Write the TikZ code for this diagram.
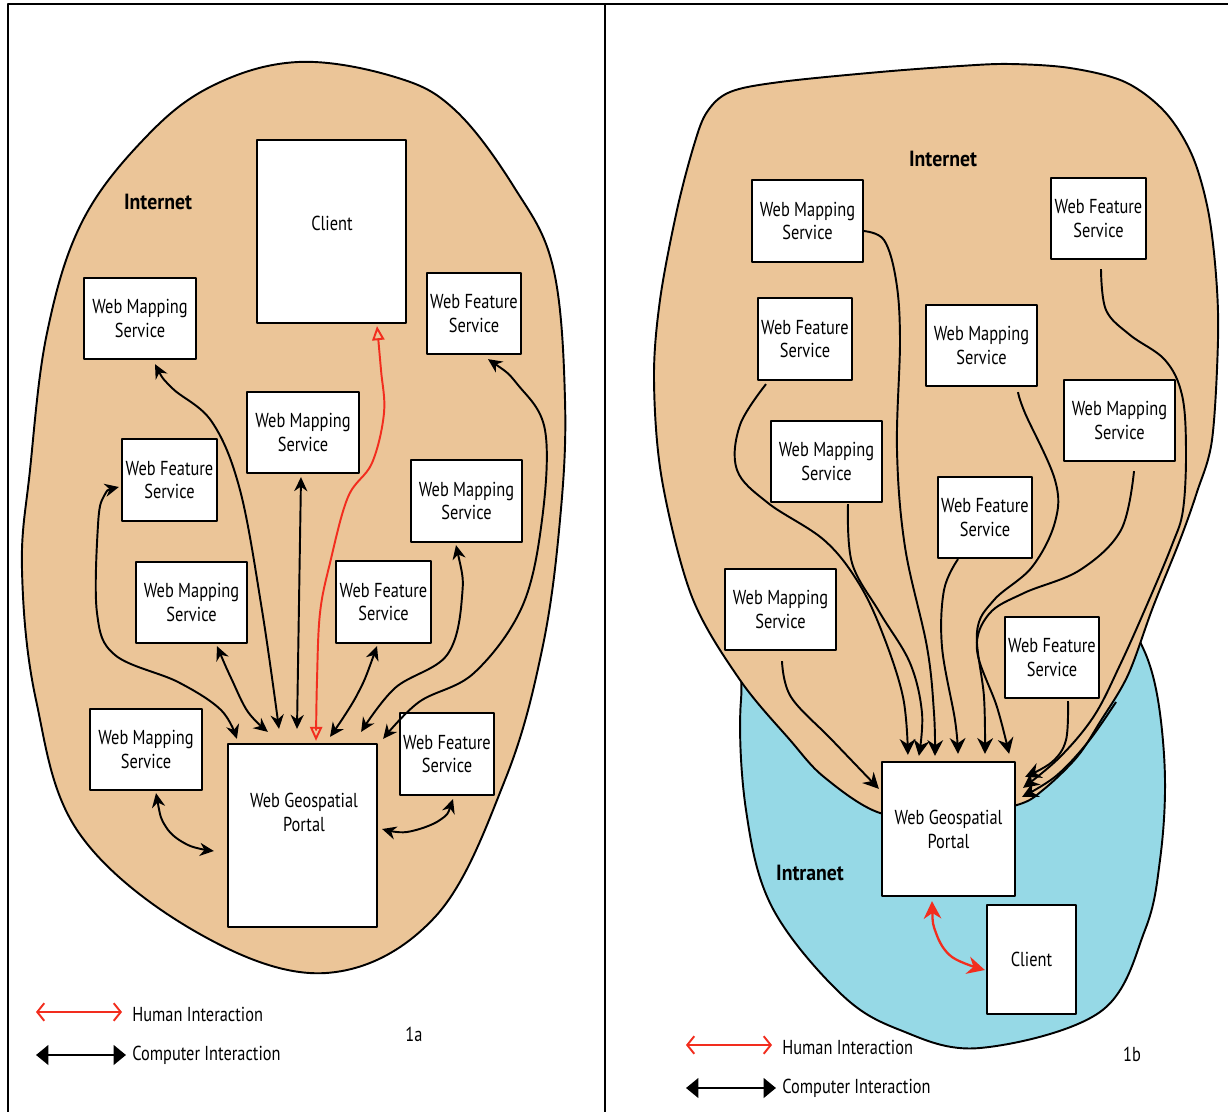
\documentclass[tikz,border=0pt]{standalone}
\usepackage{fontspec}
\setmainfont{PT Sans}[FakeStretch=0.81]
\newfontfamily\lblfont{PT Sans}[FakeStretch=0.9]
\usetikzlibrary{arrows.meta}
\definecolor{inetcol}{RGB}{235,197,152}
\definecolor{intracol}{RGB}{150,217,230}
\definecolor{hred}{RGB}{242,45,30}
\begin{document}
\begin{tikzpicture}[x=0.02cm,y=-0.02cm,line join=round,
  box/.style={draw,line width=1.3pt,fill=white,inner sep=0pt,align=center,font=\fontsize{11.5}{13.6}\selectfont},
  txt/.style={align=center,inner sep=0pt,font=\fontsize{11.5}{13.6}\selectfont},
  lbl/.style={inner sep=0pt,font=\lblfont\fontsize{12.5}{14}\selectfont\bfseries},
  blob/.style={draw,line width=1.1pt},
  carr/.style={line width=1.1pt,arrows={Stealth[length=8pt,width=7.5pt]-Stealth[length=8pt,width=7.5pt]}},
  oneway/.style={line width=1.1pt,arrows={-Stealth[length=9pt,width=9pt]}},
  humanA/.style={draw=hred,line width=1.1pt,arrows={Triangle[open,length=8pt,width=7pt]-Triangle[open,length=8pt,width=7pt]}},
  humanB/.style={draw=hred,line width=1.3pt,arrows={Stealth[length=10pt,width=10pt,fill=hred]-Stealth[length=10pt,width=10pt,fill=hred]},hred},
  leghum/.style={draw=hred,line width=1.1pt,arrows={Straight Barb[length=4pt,width=10pt]-Straight Barb[length=4pt,width=10pt]}},
  legcomp/.style={line width=1.6pt,arrows={Triangle[length=7pt,width=11pt]-Triangle[length=7pt,width=11pt]}},
  smoothp/.style={smooth,tension=0.6}]
\useasboundingbox (0,0) rectangle (1228,1112);
\fill[white] (0,0) rectangle (1228,1112);
% frame
\draw[line width=1.4pt] (8,1112) -- (8,4) -- (1228,4);
\draw[line width=1.2pt] (605,4) -- (605,1112);

%%%%%%%%%%%%%%%% 1a %%%%%%%%%%%%%%%%
\draw[blob,fill=inetcol] plot[smooth cycle,tension=0.62] coordinates {(298,62) (395,77) (455,110) (514,187) (553,267) (565,400) (560,520) (542,650) (505,780) (435,917) (326,973) (198,933) (79,833) (36,700) (22,570) (30,470) (47,333) (82,222) (145,138) (212,86)};
\node[lbl] (inetA) at (158,202) {Internet};

\node[box,minimum width=2.98cm,minimum height=3.66cm] (clientA) at (331.5,231.5) {};
\node[txt] (clientAt) at (332,223) {Client};
\node[box,minimum width=2.24cm,minimum height=1.62cm] (wms1) at (140,318.5) {Web Mapping\\Service};
\node[box,minimum width=1.88cm,minimum height=1.62cm] (wfs1) at (474,313.5) {Web Feature\\Service};
\node[box,minimum width=2.24cm,minimum height=1.62cm] (wms2) at (303,432.5) {Web Mapping\\Service};
\node[box,minimum width=1.90cm,minimum height=1.64cm] (wfs2) at (169.5,480) {Web Feature\\Service};
\node[box,minimum width=2.22cm,minimum height=1.64cm] (wms3) at (466.5,501) {Web Mapping\\Service};
\node[box,minimum width=2.22cm,minimum height=1.62cm] (wms4) at (191.5,602.5) {Web Mapping\\Service};
\node[box,minimum width=1.90cm,minimum height=1.64cm] (wfs3) at (383.5,602) {Web Feature\\Service};
\node[box,minimum width=2.24cm,minimum height=1.62cm] (wms5) at (146,749.5) {Web Mapping\\Service};
\node[box,minimum width=1.88cm,minimum height=1.64cm] (wfs4) at (447,754) {Web Feature\\Service};
\node[box,minimum width=2.98cm,minimum height=3.66cm] (portalA) at (302.5,835.5) {};
\node[txt] (portalAt) at (304,812) {Web Geospatial\\Portal};

\draw[carr] plot[smoothp] coordinates {([shift={(15,4)}]wms1.south) (172,388) (212,422) (240,490) (262,610) ([shift={(-23.5,-14)}]portalA.north)};
\draw[carr] ([shift={(-2,3)}]wms2.south) -- ([shift={(-5.5,-14)}]portalA.north);
\draw[humanA] plot[smoothp] coordinates {([shift={(45.5,2)}]clientA.south) (381,370) (384,413) (372,463) (348,497) (330,563) (320,613) (317,680) ([shift={(13.5,-2)}]portalA.north)};
\draw[carr] plot[smoothp] coordinates {([shift={(-2,7)}]wfs2.west) (104,496) (98,525) (97,613) (115,655) (178,682) (221,710) ([shift={(10,-4)}]portalA.north west)};
\draw[carr] plot[smoothp] coordinates {([shift={(25.5,2)}]wms4.south) (232,680) (248,712) ([shift={(41,-11)}]portalA.north west)};
\draw[carr] plot[smoothp] coordinates {([shift={(-6.5,2)}]wfs3.south) (357,695) ([shift={(27.5,-6)}]portalA.north)};
\draw[carr] plot[smoothp] coordinates {([shift={(-10.5,2)}]wms3.south) (462,597) (447,655) (395,688) ([shift={(-17,-11)}]portalA.north east)};
\draw[carr] plot[smoothp] coordinates {([shift={(14,4)}]wfs1.south) (518,385) (545,430) (542,520) (522,607) (474,673) (419,702) ([shift={(5,-4)}]portalA.north east)};
\draw[carr] plot[smoothp] coordinates {([shift={(10,2)}]wms5.south) (166,827) (188,845) ([shift={(-13,15.5)}]portalA.west)};
\draw[carr] plot[smoothp] coordinates {([shift={(6,3)}]wfs4.south) (440,820) (407,832) ([shift={(4,-6.5)}]portalA.east)};

% legend 1a
\coordinate (hA1) at (36,1012); \coordinate (hA2) at (122,1012);
\coordinate (cA1) at (36,1055); \coordinate (cA2) at (126,1055);
\draw[leghum] (hA1) -- (hA2);
\draw[legcomp] (cA1) -- (cA2);
\node[txt,anchor=west] (humA) at (132,1014) {Human Interaction};
\node[txt,anchor=west] (compA) at (132,1055) {Computer Interaction};
\node[txt] (figA) at (414,1034) {1a};

%%%%%%%%%%%%%%%% 1b %%%%%%%%%%%%%%%%
\draw[blob,fill=intracol] plot[smooth cycle,tension=0.6] coordinates {(760,640) (900,615) (1060,615) (1120,620) (1143,648) (1158,700) (1165,780) (1160,860) (1145,930) (1100,1012) (980,1048) (900,1030) (840,993) (772,907) (746,810) (741,700)};
\draw[blob,fill=inetcol] plot[smooth cycle,tension=0.55] coordinates {(707,112) (730,92) (780,82) (880,72) (960,66) (1010,64) (1070,68) (1125,82) (1165,112) (1192,155) (1208,210) (1216,275) (1218,340) (1212,440) (1197,492) (1180,540) (1153,607) (1128,675) (1100,722) (1077,757) (1043,790) (1017,805) (950,818) (880,813) (824,777) (790,740) (740,680) (692,597) (662,480) (654,380) (660,300) (677,210) (694,145)};
\node[lbl] (inetB) at (943,159) {Internet};
\node[lbl] (intraB) at (810,873) {Intranet};

\node[box,minimum width=2.22cm,minimum height=1.64cm] (wmsA) at (807.5,221) {Web Mapping\\Service};
\node[box,minimum width=1.90cm,minimum height=1.62cm] (wfsA) at (1098.5,218.5) {Web Feature\\Service};
\node[box,minimum width=1.88cm,minimum height=1.64cm] (wfsB) at (805,339) {Web Feature\\Service};
\node[box,minimum width=2.22cm,minimum height=1.62cm] (wmsB) at (981.5,345.5) {Web Mapping\\Service};
\node[box,minimum width=2.22cm,minimum height=1.62cm] (wmsC) at (1119.5,420.5) {Web Mapping\\Service};
\node[box,minimum width=2.22cm,minimum height=1.62cm] (wmsD) at (826.5,461.5) {Web Mapping\\Service};
\node[box,minimum width=1.88cm,minimum height=1.62cm] (wfsC) at (985,517.5) {Web Feature\\Service};
\node[box,minimum width=2.22cm,minimum height=1.62cm] (wmsE) at (780.5,609.5) {Web Mapping\\Service};
\node[box,minimum width=1.88cm,minimum height=1.62cm] (wfsD) at (1052,657.5) {Web Feature\\Service};
\node[box,minimum width=2.66cm,minimum height=2.68cm] (portalB) at (948.5,829) {Web Geospatial\\Portal};
\node[box,minimum width=1.78cm,minimum height=2.18cm] (clientB) at (1031.5,959.5) {Client};

\draw[oneway] plot[smoothp] coordinates {([shift={(-1,10)}]wmsA.east) (884,240) (896,280) (900,340) (897,450) (905,547) (927,647) (934,713) ([shift={(-13.5,-5)}]portalB.north)};
\draw[oneway] plot[smoothp] coordinates {([shift={(-39,3)}]wfsB.south) (740,425) (737,470) (768,503) (824,540) (858,582) (882,632) (903,697) ([shift={(27,-6)}]portalB.north west)};
\draw[oneway] plot[smoothp] coordinates {([shift={(21.5,1)}]wmsD.south) (852,563) (880,613) (910,663) (922,713) ([shift={(38,-5)}]portalB.north west)};
\draw[oneway] plot[smoothp] coordinates {([shift={(-27,0)}]wfsC.south) (944,590) (942,647) (955,720) ([shift={(9.5,-7)}]portalB.north)};
\draw[oneway] plot[smoothp] coordinates {([shift={(36.5,5)}]wmsB.south) (1025,413) (1055,480) (1055,522) (1032,567) (994,600) (977,632) (984,697) ([shift={(36.5,-7)}]portalB.north)};
\draw[oneway] plot[smoothp] coordinates {([shift={(14.5,9)}]wmsC.south) (1121,530) (1080,570) (1024,593) (989,614) (977,650) (997,707) ([shift={(-7,-7)}]portalB.north east)};
\draw[oneway] plot[smoothp] coordinates {([shift={(1.5,10)}]wmsE.south) (791,697) (832,740) ([shift={(-2,28)}]portalB.north west)};
\draw[oneway] plot[smoothp] coordinates {([shift={(16,2)}]wfsD.south) (1066,740) (1052,762) ([shift={(9,16)}]portalB.north east)};
\draw[oneway] plot[smoothp] coordinates {([shift={(2.5,9)}]wfsA.south) (1106,310) (1130,335) (1165,360) (1182,395) (1186,450) (1183,510) (1172,545) (1146,607) (1120,665) (1094,716) (1060,757) ([shift={(7,27)}]portalB.north east)};
\coordinate (edgept) at (1116,702);
\draw[oneway] plot[smoothp] coordinates {(edgept) (1088,742) (1056,776) ([shift={(6,36)}]portalB.north east)};

\draw[humanB] plot[smoothp] coordinates {([shift={(-16.5,4)}]portalB.south) (936,933) (952,957) ([shift={(-1,10.5)}]clientB.west)};

% legend 1b
\coordinate (hB1) at (686,1045); \coordinate (hB2) at (772,1045);
\coordinate (cB1) at (686,1088); \coordinate (cB2) at (776,1088);
\draw[leghum] (hB1) -- (hB2);
\draw[legcomp] (cB1) -- (cB2);
\node[txt,anchor=west] (humB) at (782,1047) {Human Interaction};
\node[txt,anchor=west] (compB) at (782,1088) {Computer Interaction};
\node[txt] (figB) at (1132,1054) {1b};
\end{tikzpicture}
\end{document}
